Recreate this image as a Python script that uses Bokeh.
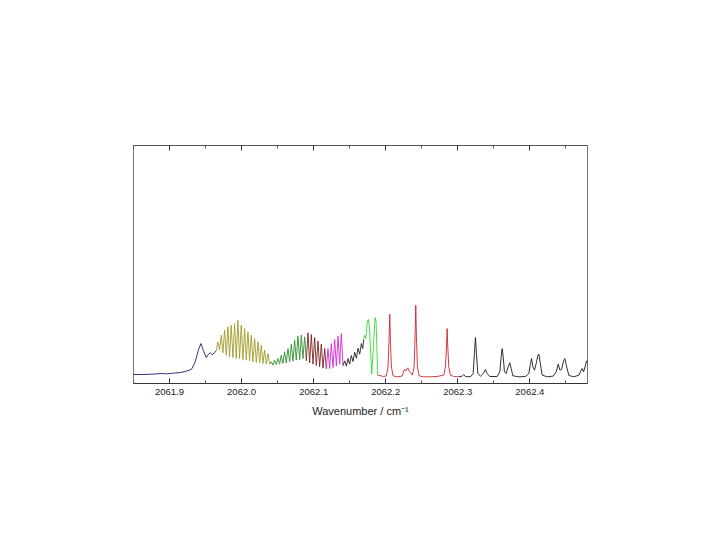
from bokeh.plotting import figure
from bokeh.models import Range1d, LinearAxis, FixedTicker, CustomJSTickFormatter, PrintfTickFormatter
from bokeh.embed import file_html
from bokeh.resources import INLINE

# ---- data (wavenumber / cm^-1, intensity / arb. units) ----
navy_wn = [2061.8500, 2061.8639, 2061.8778, 2061.8870, 2061.8963, 2061.9056, 2061.9148,
           2061.9218, 2061.9278, 2061.9310, 2061.9356, 2061.9403, 2061.9435, 2061.9472,
           2061.9509, 2061.9542, 2061.9565, 2061.9593, 2061.9620, 2061.9648]
navy_int = [2.3, 2.3, 2.7, 3.3, 3.0, 3.7, 4.3, 5.3, 6.7, 8.0, 15.0, 27.3, 33.3, 26.0,
            19.3, 22.7, 24.0, 22.0, 24.0, 26.0]

olive_wn = [2061.9648, 2061.9671, 2061.9694, 2061.9718, 2061.9741, 2061.9764, 2061.9787,
            2061.9810, 2061.9833, 2061.9856, 2061.9880, 2061.9903, 2061.9926, 2061.9949,
            2061.9972, 2061.9995, 2062.0019, 2062.0042, 2062.0065, 2062.0088, 2062.0111,
            2062.0134, 2062.0157, 2062.0181, 2062.0204, 2062.0227, 2062.0250, 2062.0273,
            2062.0296, 2062.0319, 2062.0343, 2062.0366, 2062.0389]
olive_int = [26.0, 35.0, 26.7, 41.7, 24.0, 46.7, 21.7, 50.0, 20.0, 51.7, 19.3, 53.3, 18.3,
             56.7, 18.3, 51.7, 17.3, 48.3, 16.7, 45.0, 16.0, 41.7, 15.0, 38.3, 14.3, 35.0,
             14.0, 31.7, 13.3, 26.7, 12.7, 23.3, 12.7]

green_wn = [2062.0389, 2062.0412, 2062.0435, 2062.0458, 2062.0481, 2062.0505, 2062.0528,
            2062.0551, 2062.0574, 2062.0597, 2062.0620, 2062.0644, 2062.0667, 2062.0690,
            2062.0713, 2062.0736, 2062.0759, 2062.0782, 2062.0806, 2062.0829, 2062.0852,
            2062.0875, 2062.0898]
green_int = [12.7, 15.0, 11.7, 16.7, 12.3, 18.3, 12.7, 21.7, 13.3, 25.0, 14.0, 28.3, 15.0,
             32.7, 15.7, 36.7, 16.7, 40.7, 17.3, 41.7, 18.3, 40.0, 16.0]

darkred_wn = [2062.0898, 2062.0921, 2062.0944, 2062.0968, 2062.0991, 2062.1014, 2062.1037,
              2062.1060, 2062.1083, 2062.1106, 2062.1130, 2062.1153, 2062.1176]
darkred_int = [16.0, 44.0, 14.0, 42.3, 12.7, 39.3, 11.3, 35.7, 10.0, 32.7, 8.7, 28.3, 8.0]

magenta_wn = [2062.1176, 2062.1199, 2062.1222, 2062.1245, 2062.1269, 2062.1292, 2062.1315,
              2062.1338, 2062.1361, 2062.1384, 2062.1407]
magenta_int = [8.0, 28.3, 8.3, 33.3, 9.3, 37.3, 10.7, 40.7, 12.7, 43.3, 11.3]

black1_wn = [2062.1407, 2062.1431, 2062.1454, 2062.1477, 2062.1500, 2062.1523, 2062.1546,
             2062.1569, 2062.1593, 2062.1616, 2062.1639, 2062.1662, 2062.1681, 2062.1694]
black1_int = [11.3, 16.0, 10.7, 18.3, 12.7, 21.3, 15.3, 24.7, 18.7, 28.7, 22.7, 33.3, 28.3, 37.3]

lime_wn = [2062.1694, 2062.1708, 2062.1722, 2062.1745, 2062.1759, 2062.1773, 2062.1806,
           2062.1829, 2062.1852, 2062.1866, 2062.1889]
lime_int = [37.3, 41.7, 38.3, 55.0, 57.3, 50.0, 2.7, 30.0, 59.3, 55.0, 1.7]

red_wn = [2062.1889, 2062.1972, 2062.2009, 2062.2032, 2062.2046, 2062.2056, 2062.2065,
          2062.2079, 2062.2102, 2062.2157, 2062.2227, 2062.2259, 2062.2282, 2062.2306,
          2062.2333, 2062.2370, 2062.2394, 2062.2407, 2062.2417, 2062.2426, 2062.2440,
          2062.2463, 2062.2528, 2062.2620, 2062.2713, 2062.2806, 2062.2829, 2062.2843,
          2062.2852, 2062.2861, 2062.2875, 2062.2898, 2062.2944, 2062.3014]
red_int = [1.7, 0.3, 1.0, 10.0, 36.7, 62.7, 36.7, 10.0, 1.0, 0.0, 0.7, 7.3, 6.0, 9.0,
           5.0, 1.7, 10.0, 40.0, 71.7, 40.0, 10.0, 1.0, 0.0, 0.0, 0.3, 1.7, 10.0, 30.0,
           48.3, 30.0, 10.0, 1.7, 0.3, 0.0]

black2_wn = [2062.3014, 2062.3060, 2062.3083, 2062.3106, 2062.3176, 2062.3213, 2062.3231,
             2062.3245, 2062.3259, 2062.3278, 2062.3315, 2062.3361, 2062.3384, 2062.3407,
             2062.3444, 2062.3546, 2062.3583, 2062.3602, 2062.3616, 2062.3630, 2062.3648,
             2062.3671, 2062.3699, 2062.3722, 2062.3741, 2062.3764, 2062.3847, 2062.3940,
             2062.3986, 2062.4009, 2062.4023, 2062.4042, 2062.4065, 2062.4093, 2062.4111,
             2062.4125, 2062.4144, 2062.4171, 2062.4241, 2062.4324, 2062.4366, 2062.4394,
             2062.4417, 2062.4440, 2062.4468, 2062.4486, 2062.4505, 2062.4542, 2062.4611,
             2062.4681, 2062.4708, 2062.4727, 2062.4745, 2062.4769, 2062.4787, 2062.4806]
black2_int = [0.0, 0.7, 2.3, 0.3, 0.0, 3.3, 23.3, 39.3, 23.3, 3.3, 0.7, 4.0, 7.3, 3.3,
              0.3, 0.3, 5.0, 20.0, 28.3, 20.0, 5.0, 3.3, 10.0, 14.0, 8.3, 1.0, 0.0, 0.3,
              3.3, 13.3, 18.3, 10.0, 6.7, 15.0, 21.7, 22.7, 14.0, 1.7, 0.0, 0.7, 5.0, 12.7,
              6.7, 7.3, 16.0, 18.3, 11.7, 1.3, 0.0, 1.7, 6.0, 8.3, 5.0, 10.7, 16.0, 14.0]

major_ticks = [2061.9, 2062.0, 2062.1, 2062.2, 2062.3, 2062.4]
minor_ticks = [2061.85, 2061.95, 2062.05, 2062.15, 2062.25, 2062.35, 2062.45]

segments = [
    (navy_wn, navy_int, "#1c1c6e"),
    (olive_wn, olive_int, "#a39b2a"),
    (green_wn, green_int, "#2f922f"),
    (darkred_wn, darkred_int, "#7a2222"),
    (magenta_wn, magenta_int, "#d42ad4"),
    (black1_wn, black1_int, "#222222"),
    (lime_wn, lime_int, "#33dd33"),
    (red_wn, red_int, "#c8282d"),
    (black2_wn, black2_int, "#1a1a1a"),
]

W, H = 704, 524
FL, FT, FW, FH = 133, 145, 454, 238

p = figure(width=W, height=H, output_backend="svg", toolbar_location=None,
           x_range=Range1d(2061.85, 2062.48), y_range=Range1d(-6.7, 231.7),
           x_axis_location=None, y_axis_location=None,
           min_border_left=FL, min_border_top=FT,
           min_border_right=W - FL - FW, min_border_bottom=H - FT - FH)
p.grid.visible = False
p.outline_line_color = "#777777"
p.outline_line_width = 1
p.background_fill_color = "white"
p.border_fill_color = "white"

for xs, ys, c in segments:
    p.line(xs, ys, line_color=c, line_width=0.9)

ticker = FixedTicker(ticks=major_ticks, minor_ticks=minor_ticks)

bottom = LinearAxis(ticker=ticker, formatter=PrintfTickFormatter(format="%.1f"),
                    axis_label="Wavenumber / cm\u207b\u00b9")
bottom.axis_line_color = "#333333"
bottom.major_tick_in = 5
bottom.major_tick_out = 0
bottom.minor_tick_in = 3
bottom.minor_tick_out = 0
bottom.major_tick_line_color = "#333333"
bottom.minor_tick_line_color = "#555555"
bottom.major_label_text_font = "Liberation Sans"
bottom.major_label_text_font_size = "9.5px"
bottom.major_label_text_color = "#222222"
bottom.major_label_standoff = 5
bottom.axis_label_text_font = "Liberation Sans"
bottom.axis_label_text_font_size = "11px"
bottom.axis_label_text_font_style = "normal"
bottom.axis_label_text_color = "#222222"
bottom.axis_label_standoff = 7
p.add_layout(bottom, "below")

top = LinearAxis(ticker=ticker, formatter=CustomJSTickFormatter(code="return ''"))
top.axis_line_color = "#555555"
top.major_tick_in = 5
top.major_tick_out = 0
top.minor_tick_in = 3
top.minor_tick_out = 0
top.major_tick_line_color = "#333333"
top.minor_tick_line_color = "#555555"
p.add_layout(top, "above")

open("out.html", "w").write(file_html(p, INLINE))
